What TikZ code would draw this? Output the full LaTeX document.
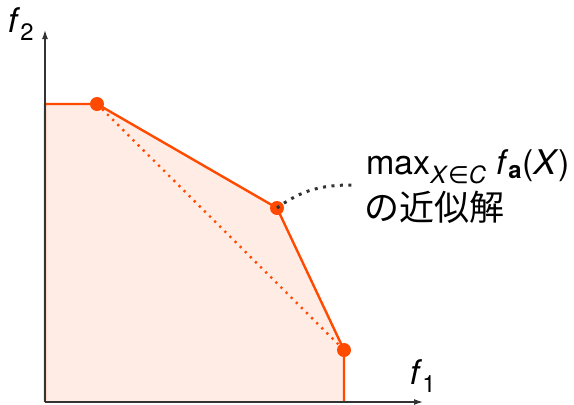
\documentclass[tikz,border=0pt]{standalone}
\usepackage{fontspec}
\setmainfont{TeX Gyre Heros}
\newfontfamily\jpfont{Noto Sans CJK JP}
\newfontfamily\symfont{DejaVu Sans}
\usetikzlibrary{arrows.meta,positioning}

\definecolor{frontline}{HTML}{FF4A00}
\definecolor{frontfill}{HTML}{FFECE5}
\definecolor{axisgray}{HTML}{333333}

\begin{document}
\begin{tikzpicture}[x=1pt,y=-1pt,
    axis/.style={draw=axisgray, line width=1.3pt, -{Latex[length=9pt,width=6pt]}},
    front/.style={draw=frontline, line width=2.4pt, line join=round},
    pt/.style={circle, fill=frontline, inner sep=0pt, minimum size=14pt},
    lbl/.style={font=\fontsize{34}{40}\selectfont, inner sep=0pt}
]
\useasboundingbox (0,0) rectangle (574,405);

% Pareto points
\coordinate (p1) at (97,104);
\coordinate (p2) at (277,208);
\coordinate (p3) at (344,350);
\coordinate (o) at (45,402);

% dominated region
\fill[frontfill] (o) -- (45,104) -- (p1) -- (p2) -- (p3) -- (344,402) -- cycle;
\draw[front] (o) -- (45,104) -- (p1) -- (p2) -- (p3) -- (344,402);
\draw[frontline, line width=2.4pt, dash pattern=on 2.2pt off 5pt] (p1) -- (p3);

% axes
\coordinate (xend) at (423,402);
\coordinate (yend) at (45,30);
\draw[axis] (o) -- (xend);
\draw[axis] (o) -- (yend);
\node[lbl] (f2) at (21,24) {\textit{f}\textsubscript{2}};
\node[lbl] (f1) at (423,376) {\textit{f}\textsubscript{1}};

% points on top
\node[pt] (d1) at (p1) {};
\node[pt] (d2) at (p2) {};
\node[pt] (d3) at (p3) {};

% annotation
\node[lbl, anchor=base west] (max) at (366,174)
  {max\textsubscript{\textit{X}{\symfont∈}\textit{C}} \textit{f}\textsubscript{\textbf{a}}(\textit{X})};
\node[lbl, anchor=base west, font=\jpfont\fontsize{35}{40}\selectfont] (approx) at (364,220) {の近似解};
\coordinate (callout) at (352,185);
\draw[axisgray, line width=3pt, dash pattern=on 3pt off 5.5pt]
  (d2.center) to[out=36, in=180] (callout);
\end{tikzpicture}
\end{document}
